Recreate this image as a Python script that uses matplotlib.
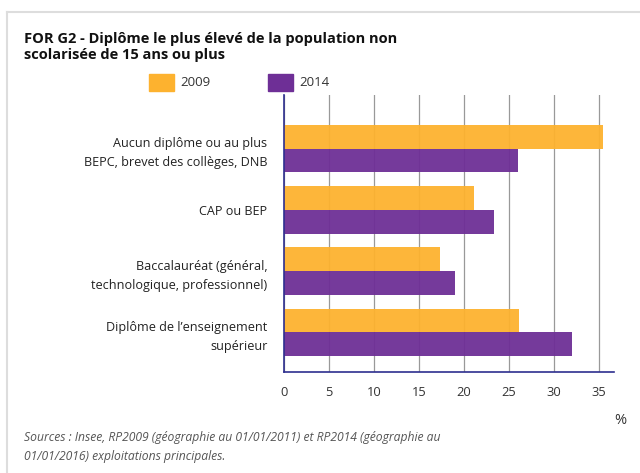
import matplotlib.pyplot as plt
from matplotlib.patches import Rectangle
from matplotlib.lines import Line2D
import numpy as np

plt.rcParams['font.family'] = ['Open Sans', 'DejaVu Sans']

categories = ["Aucun diplôme ou au plus\nBEPC, brevet des collèges, DNB",
              "CAP ou BEP",
              "Baccalauréat (général,\ntechnologique, professionnel)",
              "Diplôme de l’enseignement\nsupérieur"]
values_2009 = [35.5, 21.1, 17.4, 26.1]
values_2014 = [26.0, 23.4, 19.0, 32.0]
years = ["2009", "2014"]
xticks = [0, 5, 10, 15, 20, 25, 30, 35]

orange = "#fdb22f"
purple = "#6e2f96"
navy = "#2e2f8f"

fig = plt.figure(figsize=(6.4, 4.73), dpi=100)

# card border (top and left visible)
fig.add_artist(Line2D([7/640, 7/640], [0, 1 - 12/473], color="#dddddd", lw=1.5))
fig.add_artist(Line2D([7/640, 1], [1 - 12/473, 1 - 12/473], color="#dddddd", lw=1.5))

ax = fig.add_axes([284/640, 1 - 372/473, 330/640, 277/473])
y = np.arange(len(categories))
h = 0.39
ax.barh(y - h/2, values_2009, height=h, color=orange, alpha=0.95, zorder=2)
ax.barh(y + h/2, values_2014, height=h, color=purple, alpha=0.95, zorder=2)

ax.set_xlim(0, 36.7)
ax.set_ylim(3.645, -0.873)
ax.set_xticks(xticks)
ax.set_xticklabels([str(t) for t in xticks], fontsize=9.3, color="#333333")
ax.set_yticks(y)
ax.set_yticklabels(categories, fontsize=9.1, color="#222222", linespacing=1.6)
ax.tick_params(axis="both", length=0)
ax.tick_params(axis="x", pad=10)
ax.tick_params(axis="y", pad=12)
ax.xaxis.grid(True, color="#999999", lw=0.9, zorder=1)
for s in ["top", "right"]:
    ax.spines[s].set_visible(False)
ax.spines["left"].set_color(navy)
ax.spines["bottom"].set_color(navy)
ax.spines["left"].set_linewidth(1.2)
ax.spines["bottom"].set_linewidth(1.2)
ax.spines["left"].set_zorder(3)

fig.text(24/640, 1 - 47/473, "FOR G2 - Diplôme le plus élevé de la population non\nscolarisée de 15 ans ou plus",
         fontsize=10.5, fontweight="bold", va="center", ha="left", color="#111111", linespacing=1.2)

# legend
for (x0, col, lab) in [(149, orange, years[0]), (268, purple, years[1])]:
    fig.add_artist(Rectangle((x0/640, 1 - 91/473), 25/640, 17/473, color=col,
                             transform=fig.transFigure))
    fig.text((x0 + 31)/640, 1 - 83/473, lab, fontsize=9.5, va="center", ha="left", color="#333333")

fig.text(614/640, 1 - 420/473, "%", fontsize=10.5, va="center", ha="left", color="#333333")
fig.text(24/640, 1 - 447/473,
         "Sources : Insee, RP2009 (géographie au 01/01/2011) et RP2014 (géographie au\n01/01/2016) exploitations principales.",
         fontsize=8.7, style="italic", va="center", ha="left", color="#555555", linespacing=1.55)

fig.savefig("out.png", dpi=100)
